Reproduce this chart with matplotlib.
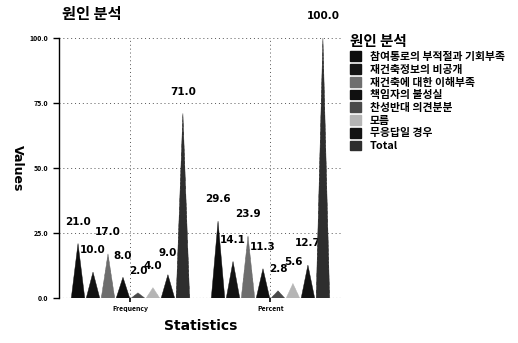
import matplotlib.pyplot as plt
from matplotlib.patches import Patch

plt.rcParams['font.family'] = ['Noto Sans CJK KR', 'DejaVu Sans']

# data
statistics = ["Frequency", "Percent"]
causes = ["참여통로의 부적절과 기회부족", "재건축정보의 비공개", "재건축에 대한 이해부족",
          "책임자의 불성실", "찬성반대 의견분분", "모름", "무응답일 경우", "Total"]
frequency = [21.0, 10.0, 17.0, 8.0, 2.0, 4.0, 9.0, 71.0]
percent = [29.6, 14.1, 23.9, 11.3, 2.8, 5.6, 12.7, 100.0]

colors = ["#0d0d0d", "#141414", "#6e6e6e", "#101010", "#4a4a4a", "#b5b5b5", "#121212", "#2e2e2e"]
hatches = [None, None, "....", None, "....", "...", None, "oooo"]

fig = plt.figure(figsize=(5.18, 3.43), dpi=100)
ax = fig.add_axes([0.114, 0.131, 0.546, 0.758])

step = 0.107
half = 0.048
for g, vals in enumerate([frequency, percent]):
    for i, v in enumerate(vals):
        xc = g + (i - 3.5) * step
        ax.fill([xc - half, xc, xc + half], [0, v, 0], color=colors[i],
                hatch=hatches[i], edgecolor=colors[i], linewidth=0.3, zorder=3)
        ax.annotate(f"{v:.1f}", (xc, v), xytext=(0, 12), textcoords="offset points",
                    ha="center", va="bottom", fontsize=7.5, fontweight="bold",
                    family="DejaVu Sans", annotation_clip=False)

ax.set_xlim(-0.51, 1.51)
ax.set_ylim(0, 100)
ax.set_yticks([0, 25, 50, 75, 100])
ax.set_yticklabels(["0.0", "25.0", "50.0", "75.0", "100.0"], fontsize=5, fontweight="bold")
ax.set_xticks([0, 1])
ax.set_xticklabels(statistics, fontsize=5, fontweight="bold")
ax.tick_params(axis="y", length=4, width=1)
ax.tick_params(axis="x", length=3, width=1.2, pad=2)

ax.grid(True, linestyle=(0, (1, 3)), color="#555555", linewidth=0.7)
ax.axhline(0, linestyle=(0, (1, 2)), color="#333333", linewidth=0.8, zorder=1)
for s in ["top", "right", "bottom"]:
    ax.spines[s].set_visible(False)
ax.spines["left"].set_linewidth(1.0)

ax.set_ylabel("Values", rotation=270, fontsize=9, fontweight="bold", labelpad=14,
              family="DejaVu Sans")
ax.set_xlabel("Statistics", fontsize=10, fontweight="bold", labelpad=5, family="DejaVu Sans")
fig.text(62 / 518, 1 - 14 / 343, "원인 분석", fontsize=11, fontweight="bold", va="center")

handles = [Patch(facecolor=c, edgecolor=c, hatch=h) for c, h in zip(colors, hatches)]
leg = fig.legend(handles, causes, loc="upper left", bbox_to_anchor=(346 / 518, 1 - 29 / 343),
                 frameon=False, title="원인 분석", handlelength=1.0, handleheight=1.0,
                 labelspacing=0.2, handletextpad=0.8, borderaxespad=0,
                 prop={"size": 7.8, "weight": "bold"})
leg.get_title().set_fontweight("bold")
leg.get_title().set_fontsize(10.5)
leg._legend_box.align = "left"

fig.savefig("out.png", dpi=100)
